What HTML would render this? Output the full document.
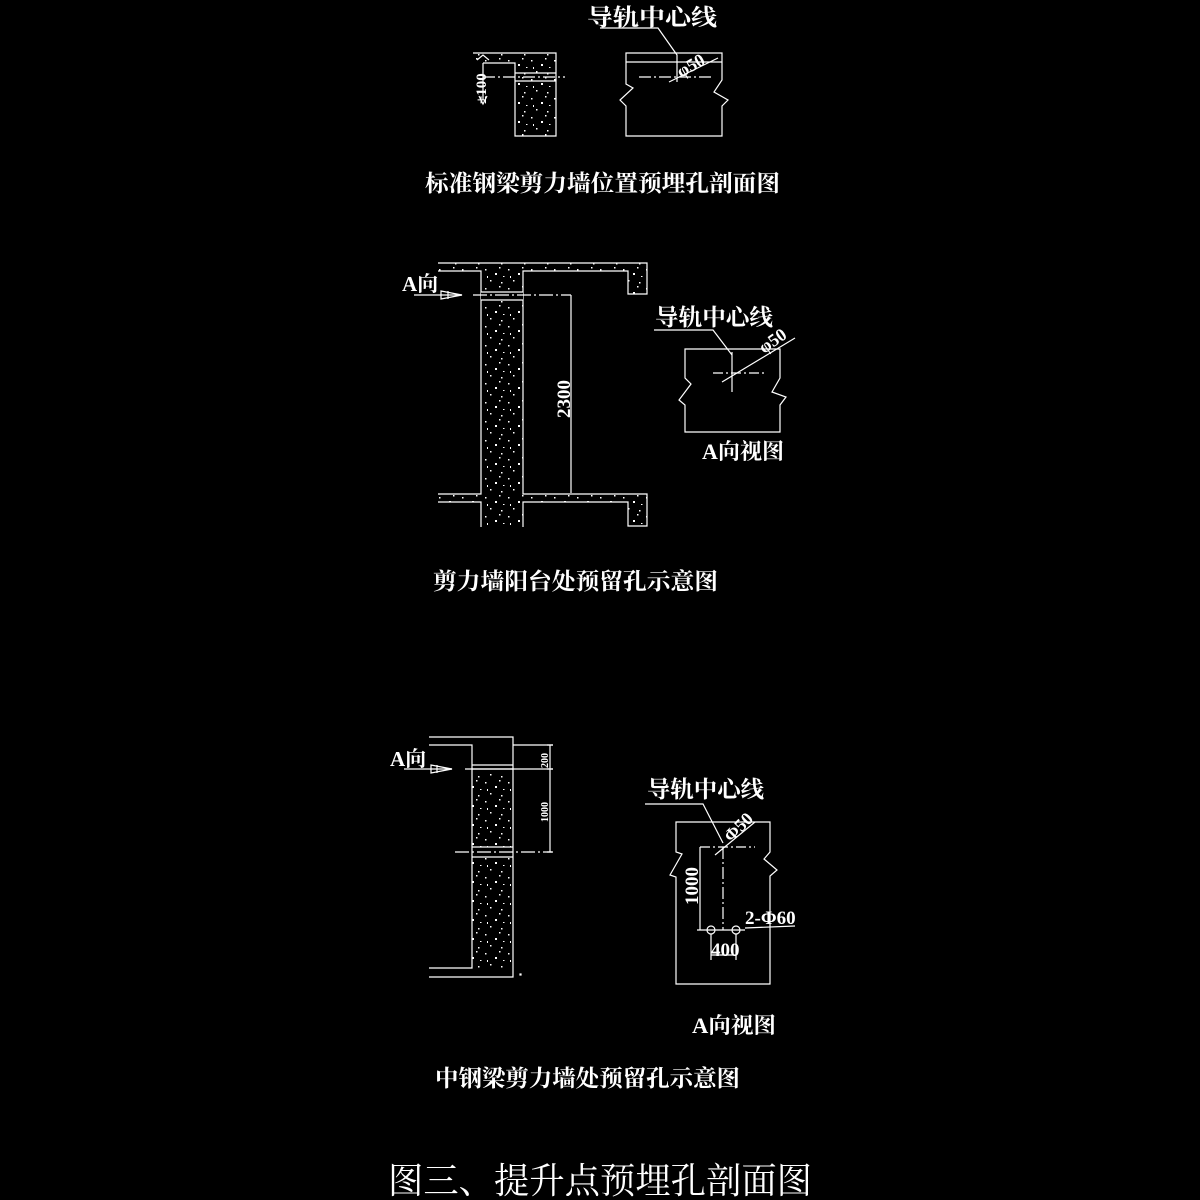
<!DOCTYPE html>
<html><head><meta charset="utf-8"><style>
html,body{margin:0;padding:0;background:#000;}
svg{display:block}
text{fill:#fff;font-family:"Liberation Serif","Noto Serif CJK SC",serif;}
</style></head><body>
<svg width="1200" height="1200" viewBox="0 0 1200 1200" xmlns="http://www.w3.org/2000/svg">
<defs>
<pattern id="sp" width="23" height="19" patternUnits="userSpaceOnUse">
<rect x="2" y="3" width="1.5" height="1.5" fill="#fff"/><rect x="12" y="7" width="2" height="2" fill="#fff"/>
<rect x="7" y="14" width="1.5" height="1.5" fill="#fff"/><rect x="18" y="16" width="1.5" height="1.5" fill="#fff"/>
<rect x="16" y="1" width="1.5" height="1.5" fill="#fff"/><rect x="4" y="10" width="1" height="2" fill="#fff"/>
<rect x="20" y="10" width="1.5" height="1" fill="#fff"/>
</pattern>
</defs>
<g stroke="#fff" stroke-width="1.2" fill="none">
<path d="M473,63 L473,53 L556,53 L556,136 L515,136 L515,63 Z" fill="url(#sp)" stroke="none"/>
<path d="M473,53 L556,53 L556,136 L515,136 L515,63 L483,63"/>
<line x1="515" y1="73" x2="556" y2="73"/><line x1="515" y1="81" x2="556" y2="81"/>
<line x1="483" y1="77" x2="565" y2="77" stroke-dasharray="12,3,2,3"/>
<line x1="483" y1="63" x2="483" y2="100"/>
<path d="M477,60 L483,55 L489,60 M479,96 L483,104 L487,96"/>
<path d="M626,53 L722,53 L722,80 L714,92 L728,100 L722,106 L722,136 L626,136 L626,106 L620,100 L633,88 L626,84 Z"/>
<line x1="626" y1="62" x2="722" y2="62"/>
<line x1="639" y1="77" x2="714" y2="77" stroke-dasharray="12,3,2,3"/>
<path d="M600,28 L658,28 L677,55 L677,82"/>
<line x1="669" y1="82" x2="718" y2="58"/>
<path d="M438,263 L647,263 L647,294 L628,294 L628,271 L523,271 L523,494 L647,494 L647,526 L628,526 L628,502 L523,502 L523,527 L481,527 L481,502 L438,502 L438,494 L481,494 L481,271 L438,271 Z" fill="url(#sp)" stroke="none"/>
<path d="M438,263 L647,263 L647,294 L628,294 L628,271 L523,271 L523,494 L647,494 L647,526 L628,526 L628,502 L523,502 L523,527"/>
<path d="M438,271 L481,271 L481,494 L438,494 M438,502 L481,502 L481,527"/>
<rect x="481" y="292" width="42" height="8" fill="#000" stroke="none"/>
<line x1="481" y1="292" x2="523" y2="292"/><line x1="481" y1="300" x2="523" y2="300"/>
<line x1="473" y1="295" x2="571" y2="295" stroke-dasharray="14,3,2,3"/>
<line x1="414" y1="295" x2="462" y2="295"/>
<path d="M441,291 L441,299 L462,295 Z M448,291 L448,299"/>
<line x1="571" y1="295" x2="571" y2="493"/>
<path d="M685,349 L780,349 L780,378 L772,392 L786,397 L780,405 L780,432 L685,432 L685,405 L679,400 L691,384 L685,378 Z"/>
<line x1="713" y1="373" x2="766" y2="373" stroke-dasharray="10,3,2,3"/>
<line x1="732" y1="352" x2="732" y2="392"/>
<path d="M654,330 L713,330 L732,355"/>
<line x1="722" y1="382" x2="795" y2="338"/>
<rect x="472" y="773" width="41" height="195" fill="url(#sp)" stroke="none"/>
<rect x="472" y="847" width="41" height="10" fill="#000" stroke="none"/>
<path d="M429,737 L513,737 L513,977 L429,977 M429,745 L472,745 L472,968 L429,968"/>
<line x1="472" y1="765" x2="513" y2="765"/><line x1="472" y1="769" x2="513" y2="769"/>
<line x1="472" y1="847" x2="513" y2="847"/><line x1="472" y1="857" x2="513" y2="857"/>
<line x1="465" y1="769" x2="553" y2="769"/>
<line x1="455" y1="852" x2="552" y2="852" stroke-dasharray="14,3,2,3"/>
<line x1="513" y1="745" x2="553" y2="745"/>
<line x1="550" y1="745" x2="550" y2="852"/>
<path d="M547,745 L553,745 M547,769 L553,769 M547,852 L553,852"/>
<line x1="404" y1="769" x2="452" y2="769"/>
<path d="M431,765 L431,773 L452,769 Z M437,765 L437,773"/>
<path d="M676,822 L770,822 L770,852 L764,859 L777,870 L770,876 L770,984 L676,984 L676,877 L670,875 L682,854 L676,852 Z"/>
<path d="M645,804 L703,804 L723,843"/>
<line x1="715" y1="855" x2="755" y2="822"/>
<line x1="700" y1="847" x2="755" y2="847" stroke-dasharray="10,3,2,3"/>
<line x1="723" y1="847" x2="723" y2="930" stroke-dasharray="12,3,2,3"/>
<line x1="700" y1="847" x2="700" y2="930"/>
<line x1="697" y1="930" x2="745" y2="930"/>
<line x1="745" y1="928" x2="795" y2="926"/>
<circle cx="711" cy="930" r="4"/><circle cx="736" cy="930" r="4"/>
<path d="M711,934 L711,960 M736,934 L736,960 M711,955 L736,955"/>
<rect x="520" y="974" width="1" height="1" fill="#fff"/>
</g>
<g font-weight="bold">
<text x="587" y="25" font-size="23" textLength="130" lengthAdjust="spacingAndGlyphs" font-family="Liberation Sans,Noto Sans CJK SC,sans-serif">导轨中心线</text>
<text x="0" y="0" font-size="15" transform="translate(486,104) rotate(-90)">±100</text>
<text x="0" y="0" font-size="18" transform="translate(681,78) rotate(-30)">φ50</text>
<text x="425" y="191" font-size="23" textLength="355" lengthAdjust="spacingAndGlyphs">标准钢梁剪力墙位置预埋孔剖面图</text>
<text x="402" y="291" font-size="21">A向</text>
<text x="0" y="0" font-size="19" transform="translate(570,418) rotate(-90)">2300</text>
<text x="655" y="325" font-size="23" textLength="118" lengthAdjust="spacingAndGlyphs" font-family="Liberation Sans,Noto Sans CJK SC,sans-serif">导轨中心线</text>
<text x="0" y="0" font-size="18" transform="translate(764,354) rotate(-35)">φ50</text>
<text x="702" y="459" font-size="22" textLength="82" lengthAdjust="spacingAndGlyphs">A向视图</text>
<text x="433" y="589" font-size="23" textLength="285" lengthAdjust="spacingAndGlyphs">剪力墙阳台处预留孔示意图</text>
<text x="390" y="766" font-size="21">A向</text>
<text x="0" y="0" font-size="10" transform="translate(548,768) rotate(-90)">200</text>
<text x="0" y="0" font-size="10" transform="translate(548,822) rotate(-90)">1000</text>
<text x="647" y="797" font-size="23" textLength="117" lengthAdjust="spacingAndGlyphs" font-family="Liberation Sans,Noto Sans CJK SC,sans-serif">导轨中心线</text>
<text x="0" y="0" font-size="18" transform="translate(731,843) rotate(-45)">Φ50</text>
<text x="0" y="0" font-size="19" transform="translate(698,905) rotate(-90)">1000</text>
<text x="745" y="924" font-size="19">2-Φ60</text>
<text x="711" y="956" font-size="19">400</text>
<text x="692" y="1033" font-size="22" textLength="84" lengthAdjust="spacingAndGlyphs">A向视图</text>
<text x="435" y="1086" font-size="23" textLength="305" lengthAdjust="spacingAndGlyphs">中钢梁剪力墙处预留孔示意图</text>
<text x="388" y="1193" font-size="36" textLength="424" lengthAdjust="spacingAndGlyphs" font-weight="normal">图三、提升点预埋孔剖面图</text>
</g>
</svg>
</body></html>
